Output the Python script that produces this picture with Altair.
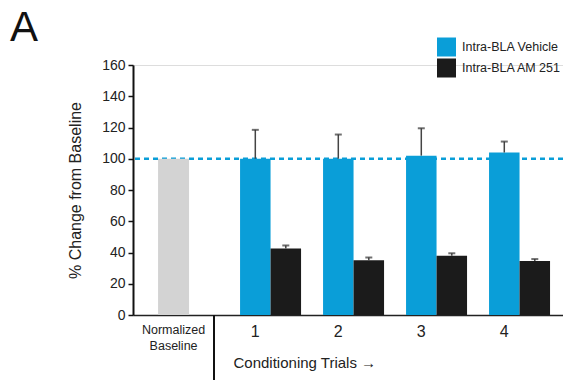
import altair as alt
import pandas as pd

# ---- data ----
groups = ["Normalized Baseline", "1", "2", "3", "4"]
trials = ["1", "2", "3", "4"]
series = ["Intra-BLA Vehicle", "Intra-BLA AM 251"]
vehicle = [100, 100, 102, 104]
vehicle_err = [18.5, 15.5, 17.5, 7]
am251 = [42.5, 35, 38, 34.5]
am251_err = [2, 1.8, 1.5, 1.3]
baseline_value = [100]
y_ticks = [0, 20, 40, 60, 80, 100, 120, 140, 160]

BLUE = "#0a9ed8"
BLACK = "#1b1b1b"
GRAY = "#d3d3d3"
FONT = "Liberation Sans"

rows = []
for i, t in enumerate(trials):
    rows.append({"group": t, "series": series[0], "value": vehicle[i], "upper": vehicle[i] + vehicle_err[i]})
    rows.append({"group": t, "series": series[1], "value": am251[i], "upper": am251[i] + am251_err[i]})
df = pd.DataFrame(rows)
df_base = pd.DataFrame({"group": [groups[0]], "value": baseline_value, "label": ["Normalized\nBaseline"]})
df_lab = pd.DataFrame({"group": trials, "series": [series[0]] * len(trials)})
df_leg = pd.DataFrame({"series": series})

xscale = alt.Scale(domain=groups, paddingInner=0.265, paddingOuter=0.223, align=0.65)
xoff_scale = alt.Scale(domain=series, paddingInner=0, paddingOuter=0)
yscale = alt.Scale(domain=[0, 160], nice=False)
cscale = alt.Scale(domain=series, range=[BLUE, BLACK])

x_axis = alt.Axis(labels=False, ticks=False, domainColor="#222", domainWidth=1.5,
                  title="Conditioning Trials \u2192", titleX=100, titleY=47,
                  titleAlign="left", titleBaseline="middle", titleFontSize=15,
                  titleFontWeight="normal", titleColor="#222", titleFont=FONT, grid=False)
y_axis = alt.Axis(values=y_ticks, grid=False, tickSize=5, tickWidth=1.5, tickColor="#111",
                  domainColor="#111", domainWidth=2, labelFontSize=14, labelPadding=3,
                  labelColor="#222", labelFont=FONT, labelOverlap=False,
                  title="% Change from Baseline", titleFontSize=16, titleFontWeight="normal",
                  titleColor="#222", titlePadding=18, titleFont=FONT)


def X():
    return alt.X("group:N", scale=xscale, sort=groups, axis=x_axis)


def XO():
    return alt.XOffset("series:N", scale=xoff_scale, sort=series)


def Y(field="value"):
    return alt.Y(f"{field}:Q", scale=yscale, axis=y_axis, title="% Change from Baseline")


dashed = alt.Chart(df_base).mark_rule(color=BLUE, strokeDash=[5, 4], strokeWidth=2.5).encode(
    y=Y()
)

base_bar = alt.Chart(df_base).mark_bar(color=GRAY, width=31, xOffset=-14).encode(
    x=X(), y=Y()
)

bars = alt.Chart(df).mark_bar(width=30.5).encode(
    x=X(), xOffset=XO(), y=Y(),
    color=alt.Color("series:N", scale=cscale, legend=None),
)

err = alt.Chart(df).mark_rule(color="#444", strokeWidth=1.5).encode(
    x=X(), xOffset=XO(), y=Y(), y2="upper:Q",
)

caps = alt.Chart(df).mark_tick(color="#333", size=7, thickness=2).encode(
    x=X(), xOffset=XO(), y=Y("upper"),
)

num_labels = alt.Chart(df_lab).mark_text(fontSize=16, font=FONT, color="#222", baseline="middle").encode(
    x=X(), xOffset=XO(), y=alt.value(267), text="group:N",
)

base_label = alt.Chart(df_base).mark_text(fontSize=12.5, font=FONT, color="#222", baseline="top",
                                          lineBreak="\n", lineHeight=16, xOffset=-14).encode(
    x=X(), y=alt.value(259), text="label:N",
)

divider = alt.Chart(df_base).mark_rule(color="#111", strokeWidth=2).encode(
    x=alt.value(81), y=alt.value(250), y2=alt.value(315)
)

panel = alt.Chart(df_base).mark_text(fontSize=42, font=FONT, color="#111", align="center",
                                     baseline="alphabetic").encode(
    x=alt.value(-109), y=alt.value(-24), text=alt.value("A")
)

# legend drawn as marks (one row per series)
legend_layers = []
for i, s in enumerate(series):
    ypos = -18 + 21 * i
    sub = alt.Chart(df_leg).transform_filter(alt.datum.series == s)
    legend_layers.append(
        sub.mark_square(size=361, opacity=1, strokeWidth=0).encode(
            x=alt.value(313.5), y=alt.value(ypos),
            color=alt.Color("series:N", scale=cscale, legend=None))
    )
    legend_layers.append(
        sub.mark_text(fontSize=12.5, font=FONT, color="#222", align="left", baseline="middle").encode(
            x=alt.value(329), y=alt.value(ypos), text="series:N")
    )

chart = alt.layer(dashed, base_bar, bars, err, caps, num_labels, base_label, divider, panel,
                  *legend_layers).properties(
    width=430, height=250,
    autosize=alt.AutoSizeParams(type="none"),
    padding={"left": 125, "top": 57, "right": 0, "bottom": 66},
).configure_view(stroke="transparent", strokeWidth=0).configure_axis(grid=False).configure(font=FONT)

chart.save("out.html", embed_options={"renderer": "svg", "actions": False})
